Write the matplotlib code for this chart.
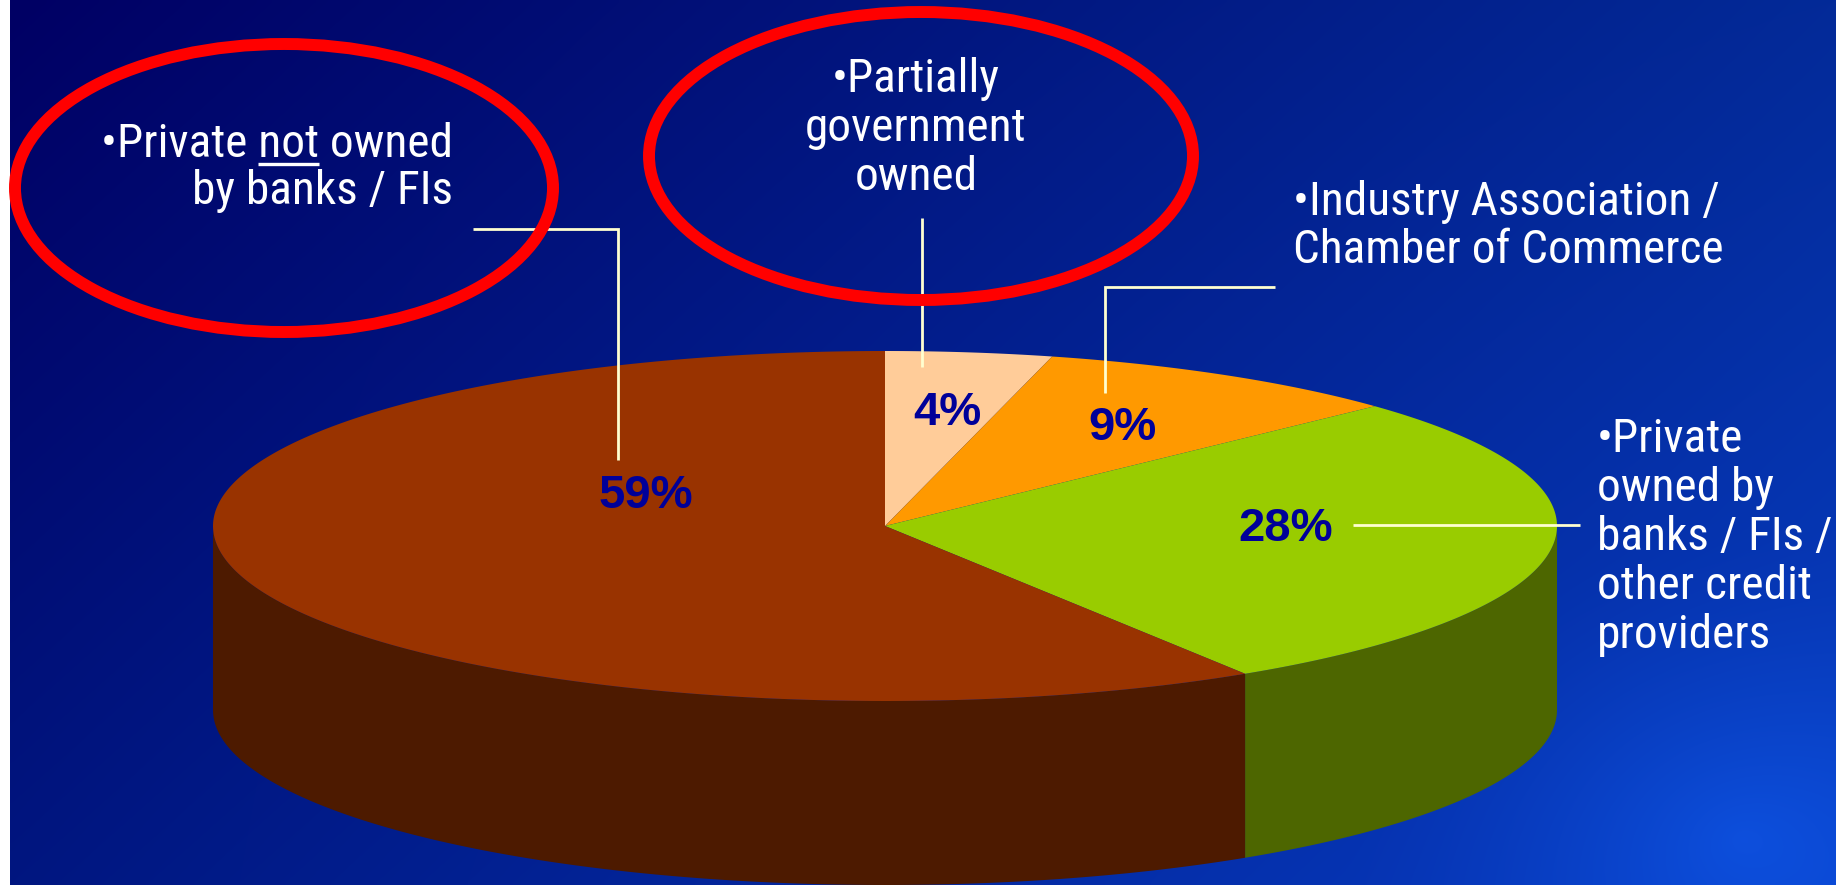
"""
Ownership structure of credit bureaus - 3D pie chart on a slide-style background.

Draws a tilted pie (top face + visible front wall) with percentage labels,
leader lines to the category captions, and red rings around two captions.

Usage:
    python plot.py
"""
import numpy as np
import matplotlib.pyplot as plt
from matplotlib.patches import Polygon, Ellipse
from matplotlib import font_manager

# --- data ---------------------------------------------------------------
shares = [4, 9, 28, 59]   # clockwise from 12 o'clock
share_labels = [f"{v}%" for v in shares]
top_colors = ["#FFCC99", "#FF9900", "#99CC00", "#993300"]
side_colors = ["#806650", "#804D00", "#4D6600", "#4D1A00"]

caption_gov = ["•Partially", "government", "owned"]
caption_assoc = ["•Industry Association /", "Chamber of Commerce"]
caption_banks = ["•Private", "owned by", "banks / FIs /", "other credit", "providers"]
caption_private = ["•Private not owned", "by banks / FIs"]

# --- layout (pixels, y pointing down) -------------------------------------
W, H = 1836, 886
CX, CY = 885, 526          # pie centre
RX, RY = 672, 175          # top-face ellipse radii
DEPTH = 184                # wall height

# baseline position of each percentage label, same order as shares
pct_pos = [(947, 425), (1123, 440), (1286, 541), (646, 508)]

LINE_COLOR = "#FFFFD0"
PCT_SIZE = 34
NARROW_FONTS = ["Liberation Sans Narrow", "Arial Narrow", "Roboto Condensed",
                "PT Sans Narrow", "Archivo Narrow", "Open Sans Condensed",
                "Encode Sans Condensed"]


def pick_family():
    names = {f.name for f in font_manager.fontManager.ttflist}
    for name in NARROW_FONTS:
        if name in names:
            return [name, "DejaVu Sans"]
    return ["Liberation Sans", "DejaVu Sans"]


def ellipse_pt(theta_deg, dy=0.0):
    t = np.radians(theta_deg)
    return CX + RX * np.sin(t), CY - RY * np.cos(t) + dy


def draw_background(ax):
    xs = np.linspace(0, 1, 400)
    ys = np.linspace(0, 1, 200)
    u, v = np.meshgrid(xs, ys)
    tl = np.array([0, 0, 100])
    tr = np.array([3, 42, 152])
    bl = np.array([0, 22, 128])
    br = np.array([8, 62, 196])
    img = (tl * ((1 - u) * (1 - v))[..., None] + tr * (u * (1 - v))[..., None]
           + bl * ((1 - u) * v)[..., None] + br * (u * v)[..., None])
    # lighter cloudy patch in the lower right corner
    d = np.hypot((u - 0.95) / 0.22, (v - 0.95) / 0.35)
    glow = np.clip(1 - d, 0, 1) ** 1.5
    img = img + glow[..., None] * np.array([6, 20, 30])
    img = np.clip(img / 255.0, 0, 1)
    ax.imshow(img, extent=(10, W, H - 1, 0), aspect="auto", zorder=0,
              interpolation="bilinear")


def draw_pie(ax):
    bounds = np.concatenate([[0], np.cumsum(shares)]) / sum(shares) * 360.0
    # front wall: only the part of each slice between 90 and 270 degrees
    for i in range(len(shares)):
        lo, hi = max(bounds[i], 90), min(bounds[i + 1], 270)
        if hi <= lo:
            continue
        t = np.linspace(lo, hi, 200)
        top = np.column_stack(ellipse_pt(t))
        bot = np.column_stack(ellipse_pt(t[::-1], DEPTH))
        ax.add_patch(Polygon(np.vstack([top, bot]), closed=True,
                             facecolor=side_colors[i], edgecolor="none", zorder=2))
    # top face
    for i in range(len(shares)):
        t = np.linspace(bounds[i], bounds[i + 1], 300)
        arc = np.column_stack(ellipse_pt(t))
        pts = np.vstack([[CX, CY], arc])
        ax.add_patch(Polygon(pts, closed=True, facecolor=top_colors[i],
                             edgecolor="none", zorder=3))
    for (x, y), lab in zip(pct_pos, share_labels):
        ax.text(x, y, lab, ha="center", va="baseline", fontsize=PCT_SIZE,
                fontweight="bold", color="#000099", zorder=6,
                family=["Liberation Sans", "DejaVu Sans"])


def draw_caption(ax, lines, x, y0, step, ha, family, size):
    objs = []
    for k, line in enumerate(lines):
        objs.append(ax.text(x, y0 + k * step, line, ha=ha, va="baseline",
                            fontsize=size, color="white", zorder=6,
                            family=family))
    return objs


def draw_annotations(ax, fig):
    family = pick_family()
    renderer = fig.canvas.get_renderer()

    def width(s, size):
        t = ax.text(0, 0, s, fontsize=size, family=family)
        w = t.get_window_extent(renderer).width
        t.remove()
        return w

    # size the caption font so the widest caption line spans ~351 px
    size = 35 * 351 / width(caption_private[0], 35)
    size = float(np.clip(size, 27, 40))

    # leader lines
    leaders = [
        ([473, 618, 618], [229, 229, 460]),
        ([922, 922], [218, 367]),
        ([1275, 1105, 1105], [287, 287, 393]),
        ([1353, 1580], [525, 525]),
    ]
    for xs, ys in leaders:
        ax.plot(xs, ys, color=LINE_COLOR, lw=2.0, zorder=5,
                solid_capstyle="butt", solid_joinstyle="miter")

    draw_caption(ax, caption_gov, 916, 92, 49, "center", family, size)
    draw_caption(ax, caption_assoc, 1293, 215, 48, "left", family, size)
    draw_caption(ax, caption_banks, 1597, 452, 49, "left", family, size)
    first = draw_caption(ax, caption_private, 453, 157, 47, "right", family, size)[0]

    # underline the word "not"
    full_w = first.get_window_extent(renderer).width
    left = 453 - full_w
    end = left + width("•Private not", size)
    start = end - width("not", size)
    ax.plot([start, end], [164, 164], color="white", lw=2.4, zorder=6,
            solid_capstyle="butt")

    # red rings
    for cx, cy, w, h in [(284, 188, 538, 288), (921, 156, 544, 288)]:
        ax.add_patch(Ellipse((cx, cy), w, h, fill=False, edgecolor="#FF0000",
                             lw=8.6, zorder=7))


def main():
    fig = plt.figure(figsize=(W / 100, H / 100), dpi=100, facecolor="white")
    ax = fig.add_axes([0, 0, 1, 1])
    ax.set_xlim(0, W)
    ax.set_ylim(H, 0)
    ax.axis("off")

    draw_background(ax)
    draw_pie(ax)
    draw_annotations(ax, fig)

    fig.savefig("out.png", dpi=100, facecolor="white")


if __name__ == "__main__":
    main()
